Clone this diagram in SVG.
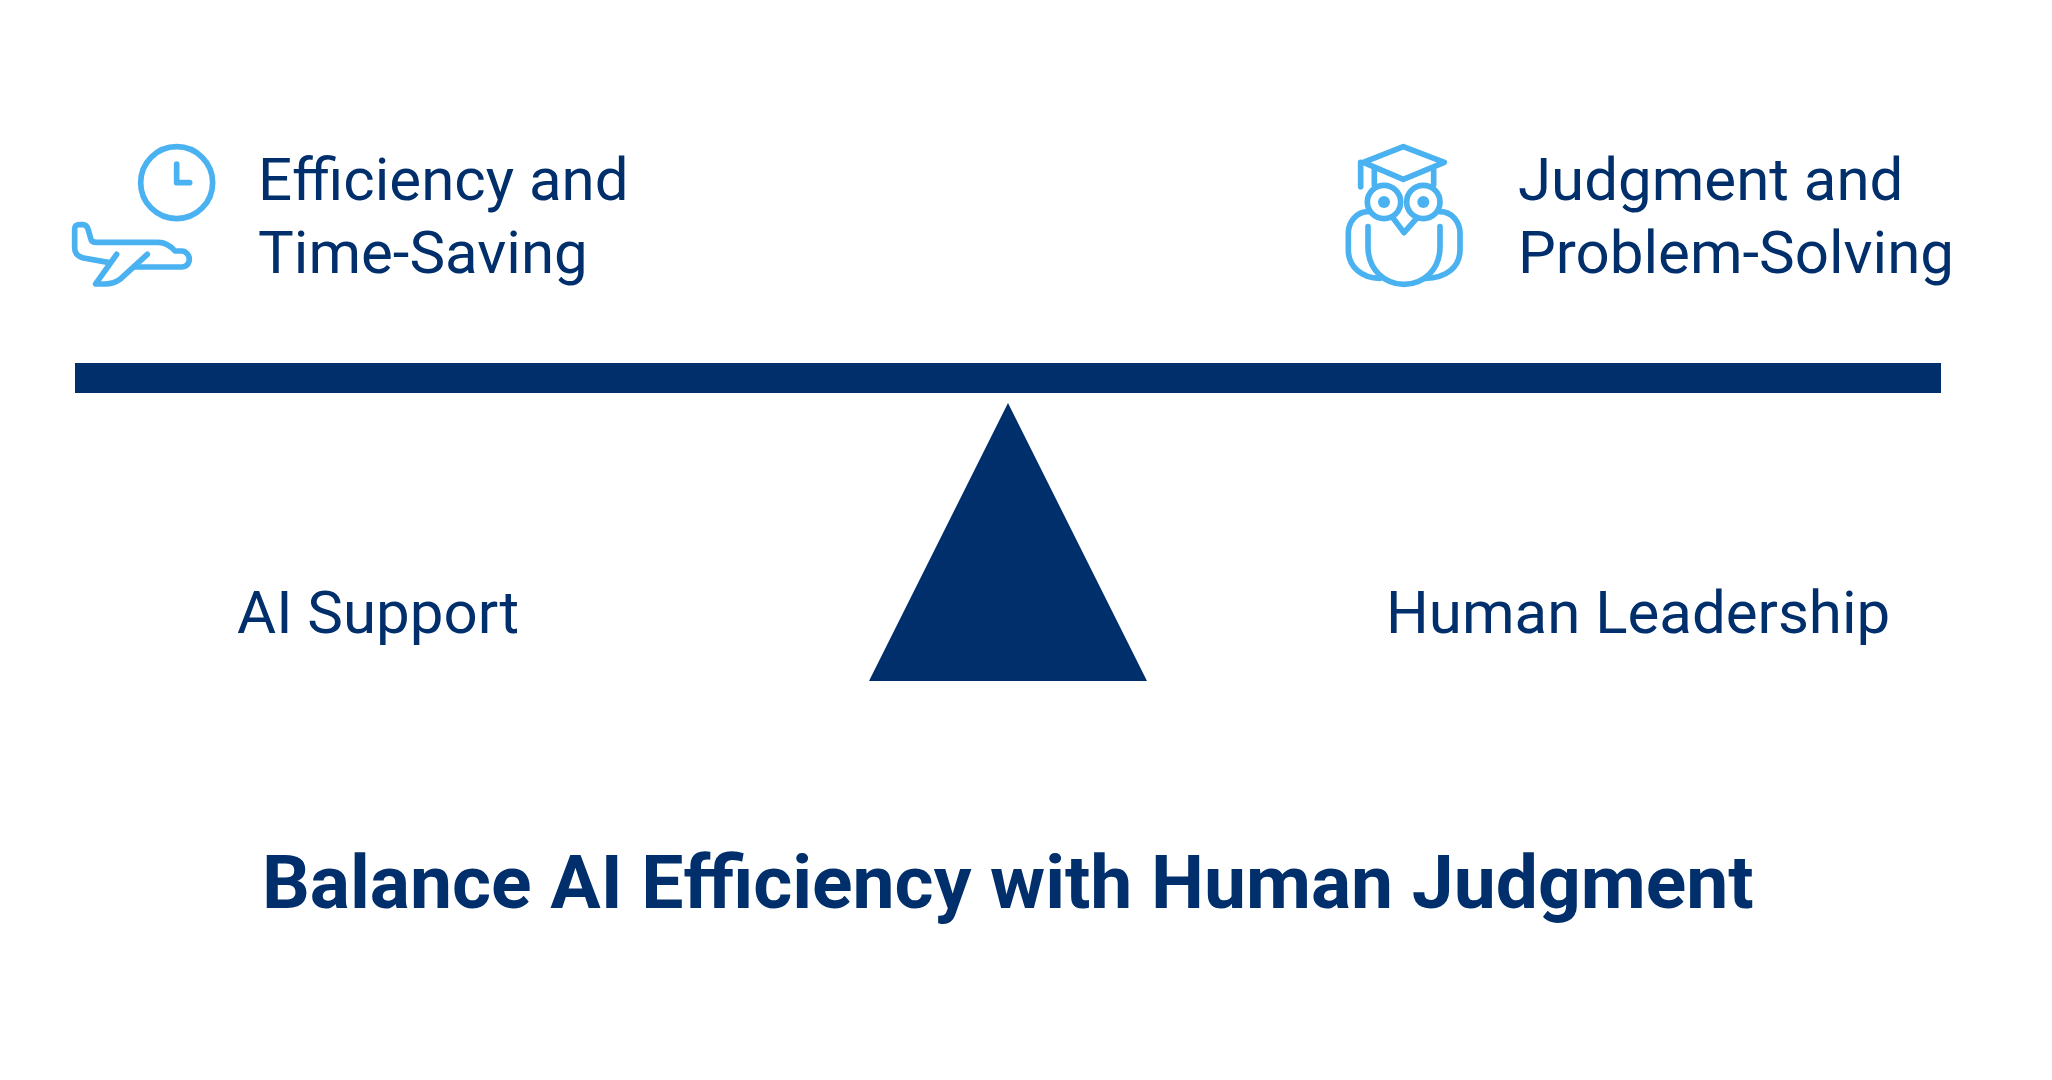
<svg xmlns="http://www.w3.org/2000/svg" width="2052" height="1080" viewBox="0 0 2052 1080">
<style>
text{font-family:Roboto,"Liberation Sans",sans-serif;fill:#002f6c}
.l{font-size:60px}
.t{font-size:75px;font-weight:700}
.i{fill:none;stroke:#4ab2f1;stroke-width:17;stroke-linecap:round;stroke-linejoin:round}
.p{fill:#4ab2f1}
.d{fill:#002f6c}
</style>
<rect width="2052" height="1080" fill="#fff"/>
<g id="balance-beam"><rect class="d" x="75" y="363" width="1866" height="30"/></g>
<g id="fulcrum"><polygon class="d" points="1008,403 1147,681 869,681"/></g>
<g id="efficiency">
<g transform="translate(50,120) scale(.3333)">
<circle class="i" cx="380" cy="188" r="108"/>
<path class="i" d="M380,132V188H419"/>
<path class="i" d="M200,403L137,492H165C185,492 197,488 210,478L292,403"/>
<path class="i" d="M178,428L105,415C85,412 74,400 74,385V325C74,318 80,314 88,314H98C108,314 112,320 115,330L122,355C124,365 130,367 140,367H325C345,367 362,378 375,393H395C408,393 418,405 418,418C418,432 408,441 395,441H255"/>
</g>
<text class="l" x="258" y="200">Efficiency and</text>
<text class="l" x="258" y="273">Time-Saving</text>
</g>
<g id="judgment">
<g transform="translate(1340,130) scale(.3333)">
<path class="i" d="M190,50L313,97L190,148L70,97Z"/>
<path class="i" d="M62,97V170M103,120V165M281,120V165"/>
<circle class="i" cx="132" cy="216" r="50"/>
<circle class="i" cx="250" cy="216" r="50"/>
<circle class="p" cx="132" cy="216" r="18"/>
<circle class="p" cx="250" cy="216" r="18"/>
<path class="i" d="M160,265L192,308L230,265"/>
<path class="i" d="M84,290V350C84,420 135,463 192,463C250,463 300,420 300,350V290"/>
<path class="i" d="M85,245C50,245 25,275 25,310V360C25,410 65,445 120,445"/>
<path class="i" d="M300,245C335,245 360,275 360,310V360C360,410 320,445 255,445"/>
</g>
<text class="l" x="1518" y="200">Judgment and</text>
<text class="l" x="1518" y="273">Problem-Solving</text>
</g>
<g id="ai-support"><text class="l" x="237" y="633">AI Support</text></g>
<g id="human-leadership"><text class="l" x="1386" y="633">Human Leadership</text></g>
<g id="title"><text class="t" x="262" y="908">Balance AI Efficiency with Human Judgment</text></g>
</svg>
